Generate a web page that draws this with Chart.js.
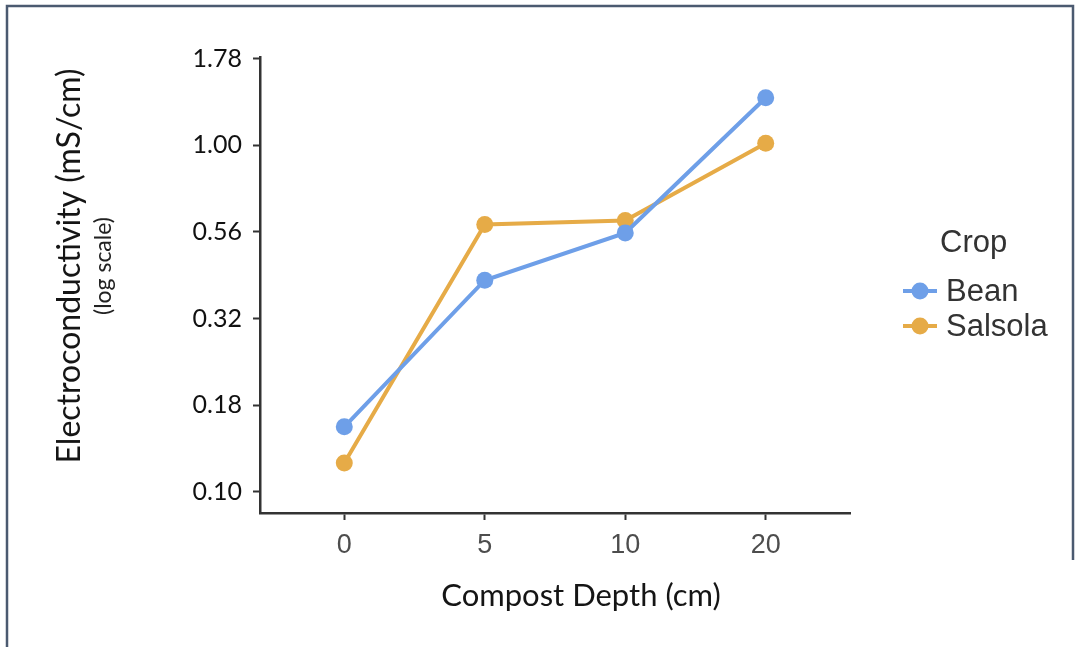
<!DOCTYPE html>
<html>
<head>
<meta charset="utf-8">
<script src="https://cdn.jsdelivr.net/npm/chart.js@4/dist/chart.umd.min.js"></script>
<style>
  html, body { margin: 0; padding: 0; background: #ffffff; }
  #wrap { position: relative; width: 1078px; height: 647px; }
  canvas { display: block; }
</style>
</head>
<body>
<div id="wrap"><canvas id="c" width="1078" height="647"></canvas></div>
<script>
// ---- data ----
const categories = ['0', '5', '10', '20'];
const beanValues = [0.154, 0.408, 0.559, 1.373];
const salsolaValues = [0.121, 0.591, 0.607, 1.015];
const seriesNames = ['Bean', 'Salsola'];
const yTickValues = [0.1, 0.1778, 0.3162, 0.5623, 1.0, 1.7783];
const yTickLabels = ['0.10', '0.18', '0.32', '0.56', '1.00', '1.78'];
const xTitle = 'Compost Depth (cm)';
const yTitle = 'Electroconductivity (mS/cm)';
const ySubTitle = '(log scale)';
const legendTitle = 'Crop';

const colors = ['#6e9fe8', '#e6ab47'];

function toPoints(vals) { return vals.map((v, i) => ({ x: i, y: v })); }

const textPlugin = {
  id: 'textPlugin',
  afterDraw(chart) {
    const ctx = chart.ctx;
    ctx.save();
    // frame
    ctx.strokeStyle = '#4b5a70';
    ctx.lineWidth = 2.5;
    ctx.beginPath();
    ctx.moveTo(7, 647);
    ctx.lineTo(7, 6);
    ctx.lineTo(1073, 6);
    ctx.lineTo(1073, 560);
    ctx.stroke();

    // y title
    ctx.fillStyle = '#151515';
    ctx.textAlign = 'center';
    ctx.textBaseline = 'alphabetic';
    ctx.save();
    ctx.translate(80, 266);
    ctx.rotate(-Math.PI / 2);
    ctx.font = '32px Lato';
    ctx.fillText(yTitle, 0, 0);
    ctx.restore();
    ctx.save();
    ctx.translate(111, 266);
    ctx.rotate(-Math.PI / 2);
    ctx.font = '23px Lato';
    ctx.fillStyle = '#222';
    ctx.fillText(ySubTitle, 0, 0);
    ctx.restore();

    // x title
    ctx.font = '31px Lato';
    ctx.fillStyle = '#151515';
    ctx.fillText(xTitle, 581, 606);

    // legend
    ctx.textAlign = 'left';
    ctx.textBaseline = 'middle';
    ctx.fillStyle = '#333333';
    ctx.font = '31px "Liberation Sans"';
    ctx.fillText(legendTitle, 940, 243);
    const rows = [291, 326];
    chart.data.datasets.forEach((ds, i) => {
      const y = rows[i];
      ctx.strokeStyle = ds.borderColor;
      ctx.lineWidth = 4;
      ctx.beginPath();
      ctx.moveTo(903, y);
      ctx.lineTo(937, y);
      ctx.stroke();
      ctx.fillStyle = ds.backgroundColor;
      ctx.beginPath();
      ctx.arc(920, y, 8.5, 0, Math.PI * 2);
      ctx.fill();
      ctx.fillStyle = '#333333';
      ctx.fillText(ds.label, 946, y + 1);
    });
    ctx.restore();
  }
};

new Chart(document.getElementById('c'), {
  type: 'line',
  data: {
    datasets: [
      { label: seriesNames[0], data: toPoints(beanValues), borderColor: colors[0], backgroundColor: colors[0],
        borderWidth: 4, pointRadius: 8.5, pointBorderWidth: 0, pointHoverRadius: 8.5, tension: 0 },
      { label: seriesNames[1], data: toPoints(salsolaValues), borderColor: colors[1], backgroundColor: colors[1],
        borderWidth: 4, pointRadius: 8.5, pointBorderWidth: 0, pointHoverRadius: 8.5, tension: 0 }
    ]
  },
  options: {
    responsive: false,
    animation: false,
    devicePixelRatio: 1,
    layout: { padding: { left: 0, top: 57, right: 228, bottom: 0 } },
    plugins: { legend: { display: false }, tooltip: { enabled: false } },
    scales: {
      x: {
        type: 'linear',
        min: -0.6,
        max: 3.6,
        afterFit: s => { s.height = 134; },
        afterBuildTicks: s => { s.ticks = categories.map((c, i) => ({ value: i })); },
        ticks: {
          autoSkip: false,
          padding: 9,
          color: '#4d4d4d',
          font: { family: 'Liberation Sans', size: 27 },
          callback: (v) => categories[v]
        },
        grid: { display: true, drawOnChartArea: false, drawTicks: true, tickLength: 7, tickColor: '#333333', tickWidth: 2 },
        border: { display: true, color: '#333333', width: 2.5 }
      },
      y: {
        type: 'logarithmic',
        min: 0.0868,
        max: 1.80,
        afterFit: s => { s.width = 260; },
        afterBuildTicks: s => { s.ticks = yTickValues.map(v => ({ value: v })); },
        ticks: {
          autoSkip: false,
          padding: 11,
          color: '#111111',
          font: { family: 'Lato', size: 25 },
          callback: (v, i) => yTickLabels[i]
        },
        grid: { display: true, drawOnChartArea: false, drawTicks: true, tickLength: 7, tickColor: '#333333', tickWidth: 2 },
        border: { display: true, color: '#333333', width: 2.5 }
      }
    }
  },
  plugins: [textPlugin]
});
</script>
</body>
</html>
